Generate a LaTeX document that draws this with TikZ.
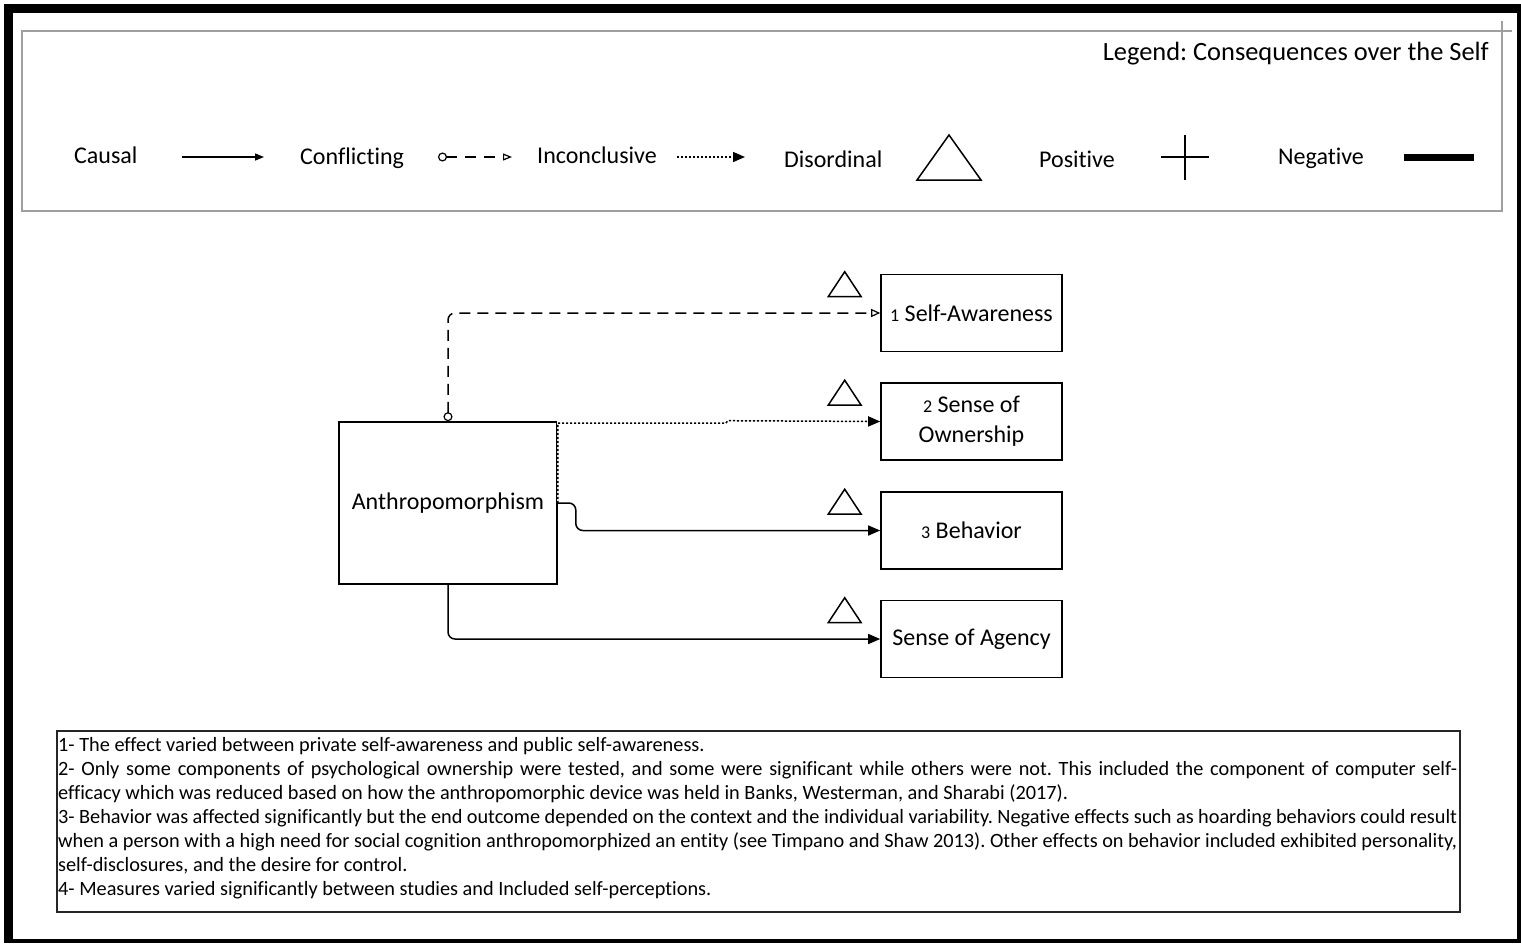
\documentclass[tikz,border=0pt]{standalone}
\usepackage{fontspec}
\setmainfont{Carlito}[Ligatures=NoCommon]
\usetikzlibrary{arrows.meta,calc}
\frenchspacing
\newcommand\bigtxt{\fontsize{24}{30}\selectfont}
\newcommand\titletxt{\fontsize{26.4}{30}\selectfont}
\newcommand\numtxt{\fontsize{18}{20}\selectfont}
\newcommand\notetxt{\fontsize{20.3}{24}\selectfont}
\tikzset{
  unitbox/.style={draw, line width=1.6pt, minimum width=181pt, minimum height=77pt,
    inner sep=0pt, font=\bigtxt, align=center},
  lbl/.style={anchor=base west, inner sep=0pt, font=\bigtxt},
  noteline/.style={anchor=base west, inner sep=0pt, font=\notetxt},
  conn/.style={line width=1.5pt, rounded corners=7pt},
  causal/.style={conn, -{Triangle[length=12pt,width=10pt]}},
  inconc/.style={conn, dash pattern=on 2.2pt off 1.8pt, -{Triangle[length=12pt,width=10pt]}},
  conflict/.style={conn, dash pattern=on 11pt off 7pt,
    {Circle[open, fill=white, length=9pt, width=9pt, line width=1.2pt]}-{Triangle[open, length=9pt, width=8pt, line width=1.2pt]}},
  tri/.style={line width=1.5pt, line join=miter},
}
\newcommand\disordmark[1]{\draw[tri] ($(#1.north west)+(-52,23)$) -- ++(16.5,-25) -- ++(16.5,25) -- cycle;}
\begin{document}
\begin{tikzpicture}[x=1pt, y=-1pt]
\useasboundingbox (0,0) rectangle (1521,943);
% page frame
\fill[black] (4,4) rectangle (1521,943);
\fill[white] (13,13) rectangle (1517,939);

% legend frame
\draw[gray!75, line width=2pt] (1512,31) -- (22,31) -- (22,211) -- (1502,211) -- (1502,21);
\node[anchor=base east, inner sep=0pt, font=\titletxt] (legtitle) at (1489,60) {Legend: Consequences over the Self};

% legend entries
\node[lbl] (lcausal) at (74,163) {Causal};
\coordinate (ca1) at (182,157); \coordinate (ca2) at (264,157);
\draw[line width=1.4pt, -{Triangle[length=9pt,width=7pt]}] (ca1) -- (ca2);

\node[lbl] (lconf) at (300,164) {Conflicting};
\coordinate (cf1) at (438,157); \coordinate (cf2) at (512,157);
\draw[line width=1.4pt, dash pattern=on 11pt off 8pt,
  {Circle[open, fill=white, length=9pt, width=9pt, line width=1.2pt]}-{Triangle[open, length=9pt, width=7pt, line width=1.2pt]}] (cf1) -- (cf2);

\node[lbl] (linc) at (537,163) {Inconclusive};
\coordinate (in1) at (677,157); \coordinate (in2) at (745,157);
\draw[line width=1.4pt, dash pattern=on 2.2pt off 1.8pt, -{Triangle[length=12pt,width=10pt]}] (in1) -- (in2);

\node[lbl] (ldis) at (784,167) {Disordinal};
\draw[tri] (917,180) -- (949,135) -- (981,180) -- cycle;

\node[lbl] (lpos) at (1039,167) {Positive};
\draw[line width=1.5pt] (1161,157) -- (1209,157) (1185,135) -- (1185,180);

\node[lbl] (lneg) at (1278,164) {Negative};
\fill[black] (1404,153.5) rectangle (1474,160.5);

% central construct and outcomes
\node[unitbox, minimum width=218pt, minimum height=162pt] (anthro) at (448,503) {Anthropomorphism};
\node[unitbox] (sa) at (971.5,313) {{\numtxt 1} Self-Awareness};
\node[unitbox] (own) at (971.5,421.5) {{\numtxt 2} Sense of\\Ownership};
\node[unitbox] (beh) at (971.5,530.5) {{\numtxt 3} Behavior};
\node[unitbox] (agency) at (971.5,639) {Sense of Agency};

\disordmark{sa}
\disordmark{own}
\disordmark{beh}
\disordmark{agency}

% connectors
\draw[conflict] (anthro.north) |- (sa.west);
\draw[white, line width=2.6pt] (anthro.north east) -- (anthro.east);
\draw[inconc, rounded corners=0pt] (anthro.east) -- ([yshift=-2pt]anthro.north east) -- ++(168,0) -- ++(2,-2.5) -- (own.west);
\draw[causal] (anthro.east) -- ++(18,0) |- (beh.west);
\draw[causal] (anthro.south) |- (agency.west);

% notes
\draw[line width=1.8pt, black!85] (57,731) rectangle (1460,912);
\node[noteline] (n1) at (58,751) {1- The effect varied between private self-awareness and public self-awareness.};
\node[noteline] (n2) at (58,775) {\makebox[1399pt][s]{2- Only some components of psychological ownership were tested, and some were significant while others were not. This included the component of computer self-}};
\node[noteline] (n3) at (58,799) {efficacy which was reduced based on how the anthropomorphic device was held in Banks, Westerman, and Sharabi (2017).};
\node[noteline] (n4) at (58,823) {\makebox[1399pt][s]{3- Behavior was affected significantly but the end outcome depended on the context and the individual variability. Negative effects such as hoarding behaviors could result}};
\node[noteline] (n5) at (58,847) {\makebox[1399pt][s]{when a person with a high need for social cognition anthropomorphized an entity (see Timpano and Shaw 2013). Other effects on behavior included exhibited personality,}};
\node[noteline] (n6) at (58,871) {self-disclosures, and the desire for control.};
\node[noteline] (n7) at (58,895) {4- Measures varied significantly between studies and Included self-perceptions.};
\end{tikzpicture}
\end{document}
